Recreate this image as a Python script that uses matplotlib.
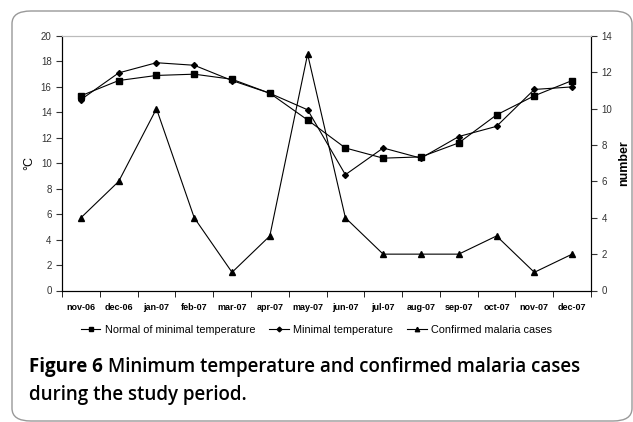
import matplotlib.pyplot as plt
import numpy as np
from matplotlib.patches import FancyBboxPatch

months = ["nov-06", "dec-06", "jan-07", "feb-07", "mar-07", "apr-07", "may-07",
          "jun-07", "jul-07", "aug-07", "sep-07", "oct-07", "nov-07", "dec-07"]
normal_min = [15.3, 16.5, 16.9, 17.0, 16.6, 15.5, 13.4, 11.2, 10.4, 10.5, 11.6, 13.8, 15.3, 16.5]
min_temp = [15.0, 17.1, 17.9, 17.7, 16.5, 15.5, 14.2, 9.1, 11.2, 10.4, 12.1, 12.9, 15.8, 16.0]
malaria = [4, 6, 10, 4, 1, 3, 13, 4, 2, 2, 2, 3, 1, 2]

plt.rcParams['font.family'] = ['Liberation Sans', 'DejaVu Sans']

W, H = 633, 422
fig = plt.figure(figsize=(W/100, H/100), dpi=100)

# rounded frame around the figure
frame = FancyBboxPatch((12/W, 1/H), 620/W, (421 - 11)/H,
                       boxstyle="round,pad=0,rounding_size=0.03",
                       transform=fig.transFigure, fill=False,
                       edgecolor='#999999', linewidth=1.0)
fig.patches.append(frame)

ax = fig.add_axes([62/W, 1 - 290.5/H, (591 - 62)/W, (290.5 - 36)/H])
x = np.arange(len(months))

l1, = ax.plot(x, normal_min, color='black', lw=0.8, marker='s', ms=4)
l2, = ax.plot(x, min_temp, color='black', lw=0.8, marker='D', ms=3)
ax.set_ylim(0, 20)
ax.set_yticks(range(0, 21, 2))
ax.set_xlim(-0.5, len(months) - 0.5)
ax.set_xticks(x)
ax.set_xticklabels(months, fontsize=6.5, fontweight='bold')
ax.set_xticks(np.arange(-0.5, len(months)), minor=True)
ax.tick_params(axis='x', which='major', length=0, pad=9)
ax.tick_params(axis='x', which='minor', length=4, direction='out')
ax.tick_params(axis='y', labelsize=7, length=4, direction='out', colors='#333333')
ax.set_ylabel("°C", fontsize=9)

ax2 = ax.twinx()
l3, = ax2.plot(x, malaria, color='black', lw=0.8, marker='^', ms=4)
ax2.set_ylim(0, 14)
ax2.set_yticks(range(0, 15, 2))
ax2.tick_params(axis='y', labelsize=7, length=4, direction='out', colors='#333333')
ax2.set_ylabel("number", fontsize=9, fontweight='bold')

for a in (ax, ax2):
    a.spines['top'].set_color('#bbbbbb')
    a.spines['left'].set_color('black')
    a.spines['right'].set_color('black')
    a.spines['bottom'].set_color('black')

fig.legend([l1, l2, l3],
           ["Normal of minimal temperature", "Minimal temperature", "Confirmed malaria cases"],
           loc='center', bbox_to_anchor=(0.5, 1 - 330/H), ncol=3, frameon=False,
           fontsize=7.8, handlelength=1.8, handletextpad=0.4, columnspacing=1.3,
           markerscale=0.8)

cap_font = ['Open Sans', 'DejaVu Sans']
t = fig.text(29/W, 1 - 367/H, "Figure 6", fontsize=13.5, fontweight='bold',
             family=cap_font, va='center')
fig.canvas.draw()
bb = t.get_window_extent()
fig.text((bb.x1 + 5)/W, 1 - 367/H, "Minimum temperature and confirmed malaria cases",
         fontsize=13.5, fontweight='semibold', family=cap_font, va='center')
fig.text(29/W, 1 - 395/H, "during the study period.",
         fontsize=13.5, fontweight='semibold', family=cap_font, va='center')

fig.savefig("out.png", dpi=100)
